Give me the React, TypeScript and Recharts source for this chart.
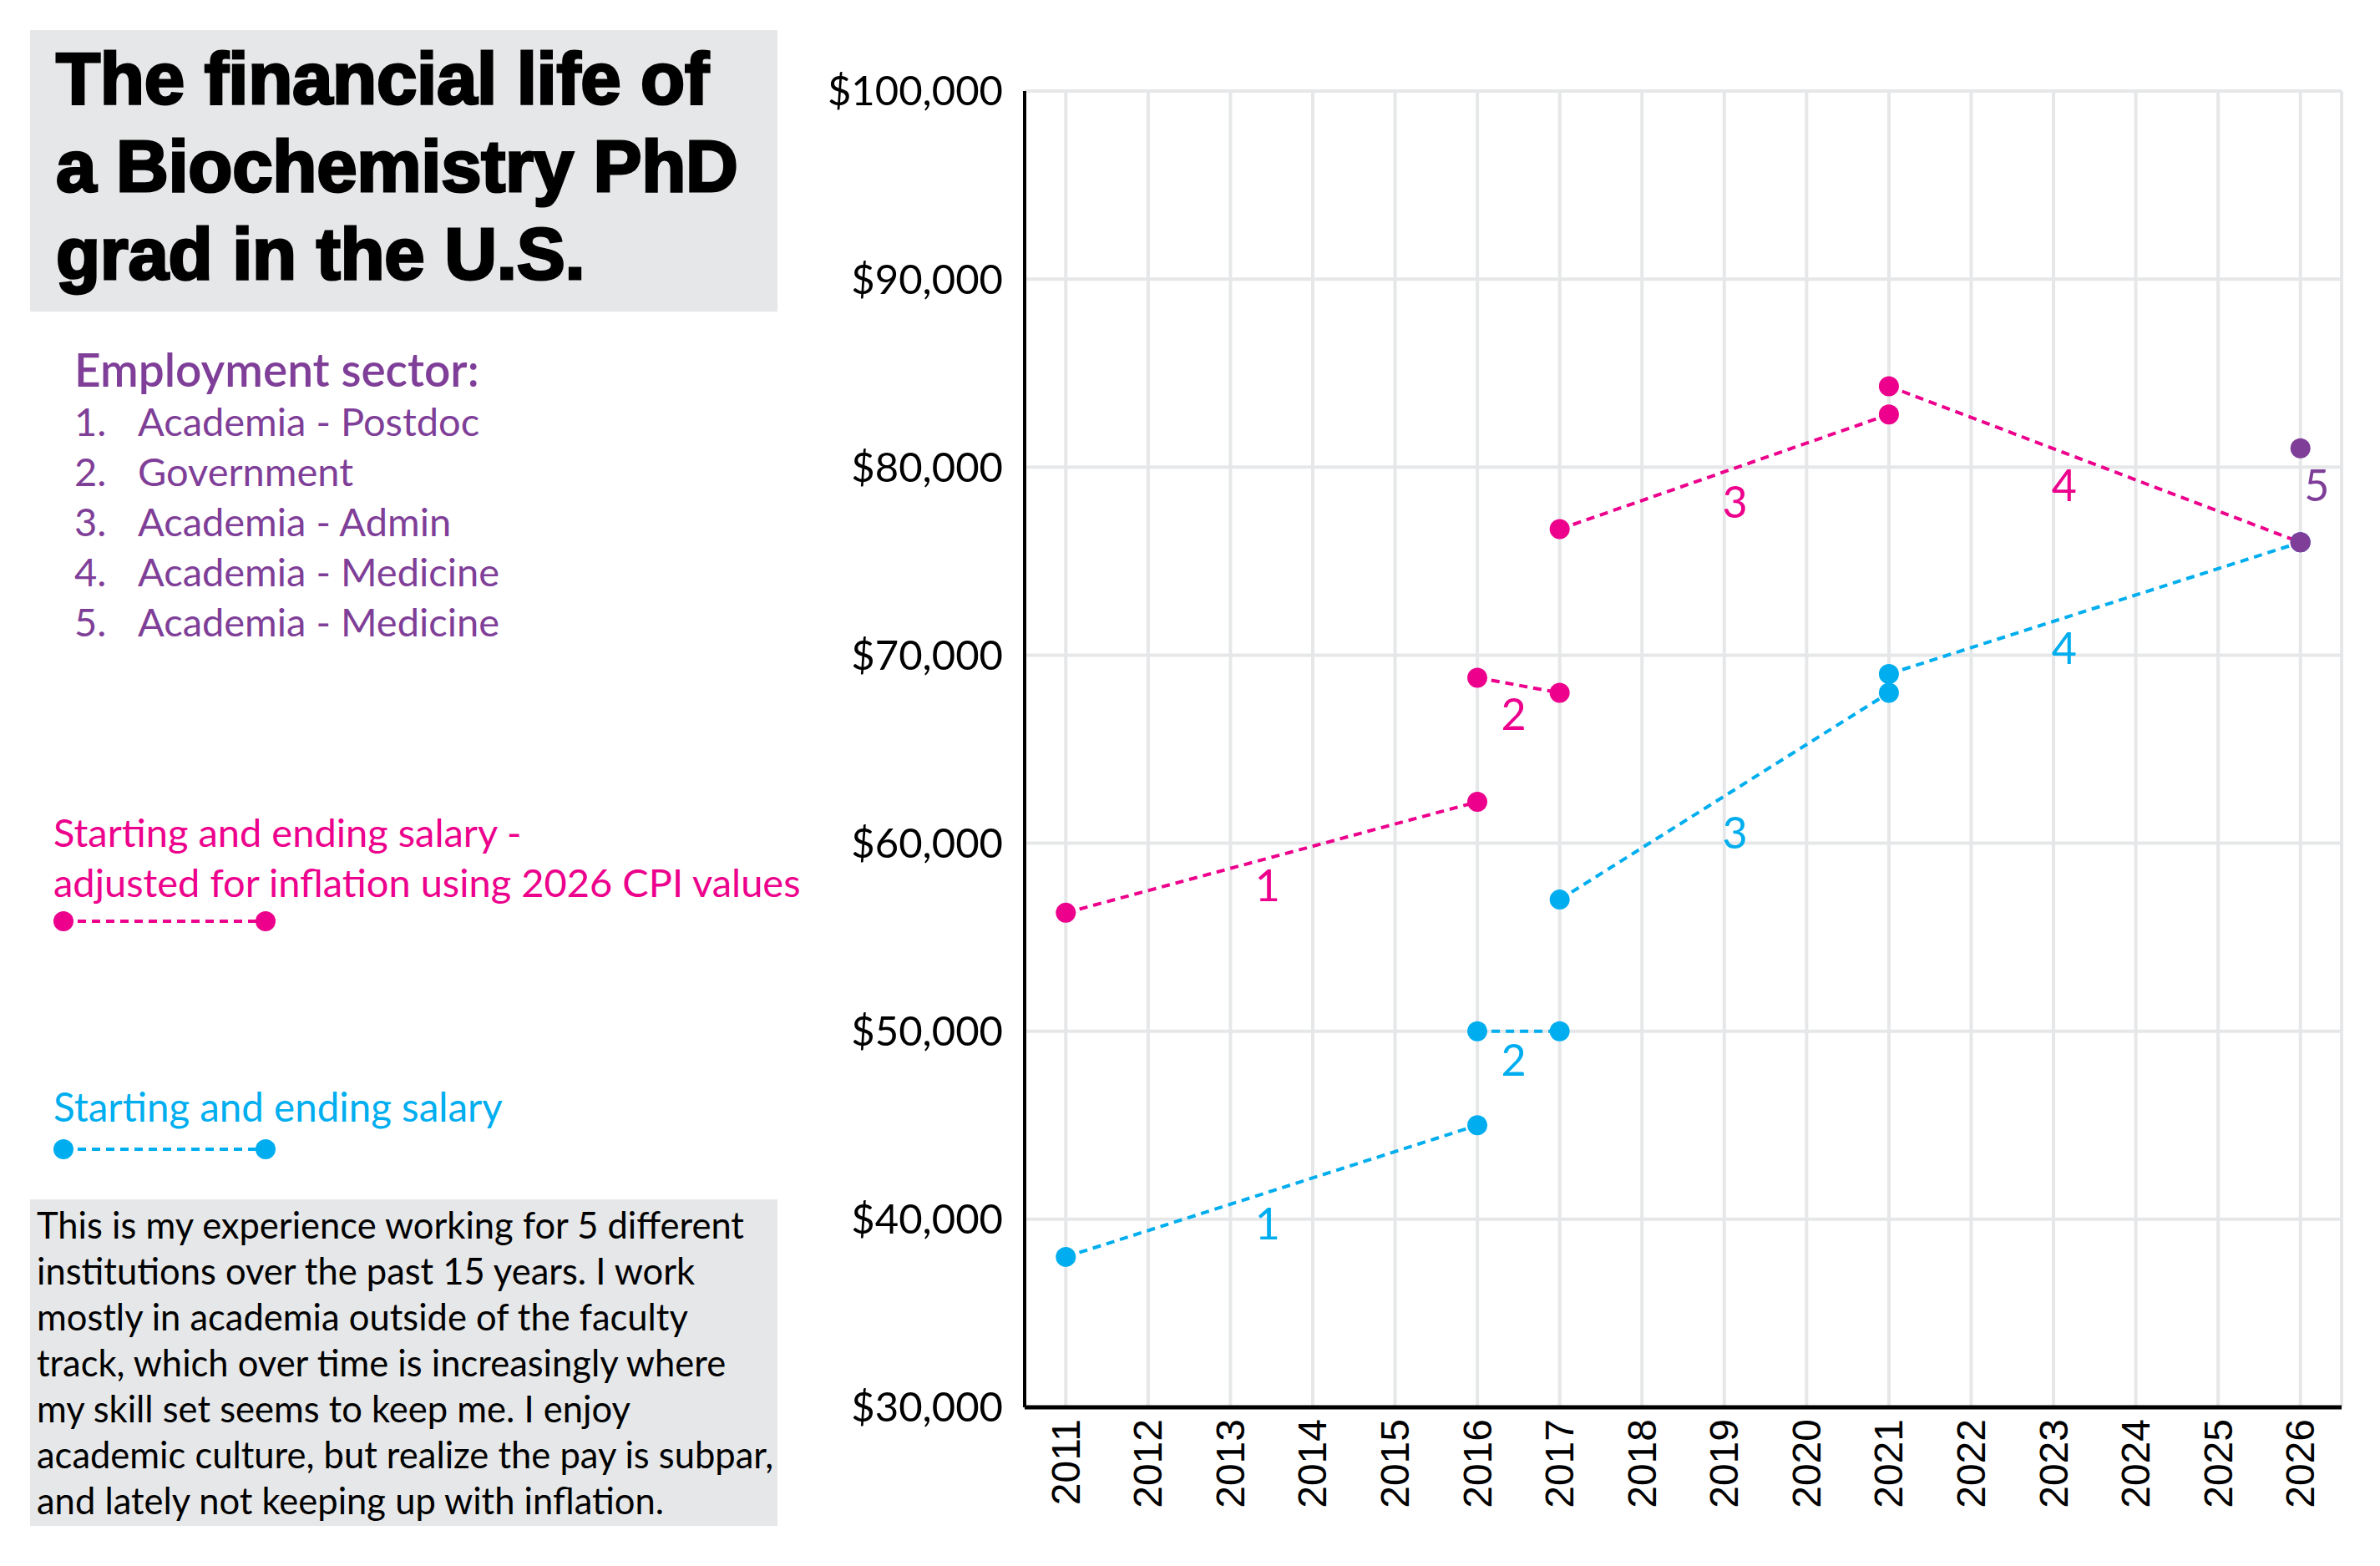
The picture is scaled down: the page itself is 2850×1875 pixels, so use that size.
import { ComposedChart, Line, XAxis, YAxis, CartesianGrid } from "recharts";

const PINK = "#ec008c";
const BLUE = "#00aeef";
const PURPLE = "#7f3f98";
const GRID = "#e6e7e8";
const FONT = "Lato, 'Noto Sans', sans-serif";

const years = [2011, 2012, 2013, 2014, 2015, 2016, 2017, 2018, 2019, 2020, 2021, 2022, 2023, 2024, 2025, 2026];
const salaryTicks = [30000, 40000, 50000, 60000, 70000, 80000, 90000, 100000];

// start and end salary of each job, in 2026 dollars
const adjustedPostdoc = [{ year: 2011, salary: 56300 }, { year: 2016, salary: 62200 }];
const adjustedGovernment = [{ year: 2016, salary: 68800 }, { year: 2017, salary: 68000 }];
const adjustedAdmin = [{ year: 2017, salary: 76700 }, { year: 2021, salary: 82800 }];
const adjustedMedicine = [{ year: 2021, salary: 84300 }, { year: 2026, salary: 76000 }];

// start and end salary of each job, as paid
const nominalPostdoc = [{ year: 2011, salary: 38000 }, { year: 2016, salary: 45000 }];
const nominalGovernment = [{ year: 2016, salary: 50000 }, { year: 2017, salary: 50000 }];
const nominalAdmin = [{ year: 2017, salary: 57000 }, { year: 2021, salary: 68000 }];
const nominalMedicine = [{ year: 2021, salary: 69000 }, { year: 2026, salary: 76000 }];

// the job started in 2026
const currentJob = [{ year: 2026, salary: 76000 }, { year: 2026, salary: 81000 }];

// sector numbers placed next to each segment
const adjustedLabels = [
  { year: 2013.45, salary: 57800, label: "1" },
  { year: 2016.44, salary: 66900, label: "2" },
  { year: 2019.13, salary: 78200, label: "3" },
  { year: 2023.13, salary: 79100, label: "4" },
];
const nominalLabels = [
  { year: 2013.45, salary: 39800, label: "1" },
  { year: 2016.44, salary: 48500, label: "2" },
  { year: 2019.13, salary: 60600, label: "3" },
  { year: 2023.13, salary: 70400, label: "4" },
];
const currentLabel = [{ year: 2026.2, salary: 79100, label: "5" }];

const sectors = [
  "Academia - Postdoc",
  "Government",
  "Academia - Admin",
  "Academia - Medicine",
  "Academia - Medicine",
];

const titleLines = ["The financial life of", "a Biochemistry PhD", "grad in the U.S."];

const storyLines = [
  "This is my experience working for 5 different",
  "institutions over the past 15 years. I work",
  "mostly in academia outside of the faculty",
  "track, which over time is increasingly where",
  "my skill set seems to keep me. I enjoy",
  "academic culture, but realize the pay is subpar,",
  "and lately not keeping up with inflation.",
];

const segments = [
  { key: "a1", data: adjustedPostdoc, color: PINK },
  { key: "a2", data: adjustedGovernment, color: PINK },
  { key: "a3", data: adjustedAdmin, color: PINK },
  { key: "a4", data: adjustedMedicine, color: PINK },
  { key: "n1", data: nominalPostdoc, color: BLUE },
  { key: "n2", data: nominalGovernment, color: BLUE },
  { key: "n3", data: nominalAdmin, color: BLUE },
  { key: "n4", data: nominalMedicine, color: BLUE },
];

const DASH = "10 7";

function YearTick({ x, y, payload }: any) {
  const ty = y + 12;
  return (
    <text
      x={x}
      y={ty}
      transform={`rotate(-90 ${x} ${ty})`}
      textAnchor="end"
      dominantBaseline="central"
      fontFamily="'Liberation Sans', Arial, sans-serif"
      fontSize={48}
      fill="#000"
    >
      {payload.value}
    </text>
  );
}

function labelDot(color: string) {
  return (props: any) => (
    <text
      key={`${color}-${props.index}`}
      x={props.cx}
      y={props.cy}
      textAnchor="middle"
      dominantBaseline="central"
      fontFamily={FONT}
      fontSize={52}
      fill={color}
    >
      {props.payload.label}
    </text>
  );
}

function LegendSample({ y, color }: { y: number; color: string }) {
  return (
    <g>
      <line x1={76} x2={318} y1={y} y2={y} stroke={color} strokeWidth={4} strokeDasharray={DASH} />
      <circle cx={76} cy={y} r={12} fill={color} />
      <circle cx={318} cy={y} r={12} fill={color} />
    </g>
  );
}

function SidePanel() {
  return (
    <svg
      width={1010}
      height={1875}
      style={{ position: "absolute", left: 0, top: 0, pointerEvents: "none" }}
    >
      <rect x={36} y={36} width={895} height={337} fill={GRID} />
      {titleLines.map((t, i) => (
        <text
          key={t}
          x={67}
          y={124 + i * 105}
          fontFamily="'Liberation Sans', Arial, sans-serif"
          fontWeight={700}
          fontSize={87}
          letterSpacing={-0.3}
          fill="#000"
          stroke="#000"
          strokeWidth={3}
        >
          {t}
        </text>
      ))}

      <text x={89} y={463} fontFamily={FONT} fontWeight={600} fontSize={55} fill={PURPLE}>
        Employment sector:
      </text>
      {sectors.map((s, i) => (
        <g key={i} fontFamily={FONT} fontSize={47} fill={PURPLE}>
          <text x={89} y={522 + i * 60}>{`${i + 1}.`}</text>
          <text x={165} y={522 + i * 60}>{s}</text>
        </g>
      ))}

      <g fontFamily={FONT} fontSize={47} fill={PINK}>
        <text x={64} y={1014}>Starting and ending salary -</text>
        <text x={64} y={1074}>adjusted for inflation using 2026 CPI values</text>
      </g>
      <LegendSample y={1103} color={PINK} />

      <text x={64} y={1343} fontFamily={FONT} fontSize={47.5} fill={BLUE}>
        Starting and ending salary
      </text>
      <LegendSample y={1376} color={BLUE} />

      <rect x={36} y={1436} width={895} height={391} fill={GRID} />
      {storyLines.map((t, i) => (
        <text key={i} x={44} y={1483 + i * 55} fontFamily={FONT} fontSize={43.5} fill="#000">
          {t}
        </text>
      ))}
    </svg>
  );
}

export default function App() {
  return (
    <div
      style={{
        position: "absolute",
        left: 0,
        top: 0,
        width: 2850,
        height: 1875,
        background: "#fff",
        overflow: "hidden",
      }}
    >
      <ComposedChart
        width={2850}
        height={1875}
        margin={{ top: 109, right: 46, bottom: 40, left: 1027 }}
      >
        <CartesianGrid stroke={GRID} strokeWidth={4} />
        <XAxis
          type="number"
          dataKey="year"
          domain={[2010.5, 2026.5]}
          ticks={years}
          interval={0}
          height={150}
          axisLine={{ stroke: "#000", strokeWidth: 5 }}
          tickLine={false}
          tickSize={0}
          tick={<YearTick />}
          allowDataOverflow
        />
        <YAxis
          type="number"
          dataKey="salary"
          domain={[30000, 100000]}
          ticks={salaryTicks}
          interval={0}
          width={200}
          axisLine={{ stroke: "#000", strokeWidth: 4 }}
          tickLine={false}
          tickSize={0}
          tickMargin={26}
          tick={{ fill: "#000", fontSize: 49, fontFamily: FONT }}
          tickFormatter={(v: number) => `$${v.toLocaleString("en-US")}`}
        />
        {segments.map((s) => (
          <Line
            key={s.key}
            data={s.data}
            dataKey="salary"
            stroke={s.color}
            strokeWidth={4}
            strokeDasharray={DASH}
            dot={{ r: 12, fill: s.color, stroke: "none", strokeWidth: 0 }}
            activeDot={false}
            isAnimationActive={false}
          />
        ))}
        <Line
          data={currentJob}
          dataKey="salary"
          stroke="none"
          dot={{ r: 12, fill: PURPLE, stroke: "none", strokeWidth: 0 }}
          activeDot={false}
          isAnimationActive={false}
        />
        <Line
          data={adjustedLabels}
          dataKey="salary"
          stroke="none"
          dot={labelDot(PINK)}
          activeDot={false}
          isAnimationActive={false}
        />
        <Line
          data={nominalLabels}
          dataKey="salary"
          stroke="none"
          dot={labelDot(BLUE)}
          activeDot={false}
          isAnimationActive={false}
        />
        <Line
          data={currentLabel}
          dataKey="salary"
          stroke="none"
          dot={labelDot(PURPLE)}
          activeDot={false}
          isAnimationActive={false}
        />
      </ComposedChart>
      <SidePanel />
    </div>
  );
}
